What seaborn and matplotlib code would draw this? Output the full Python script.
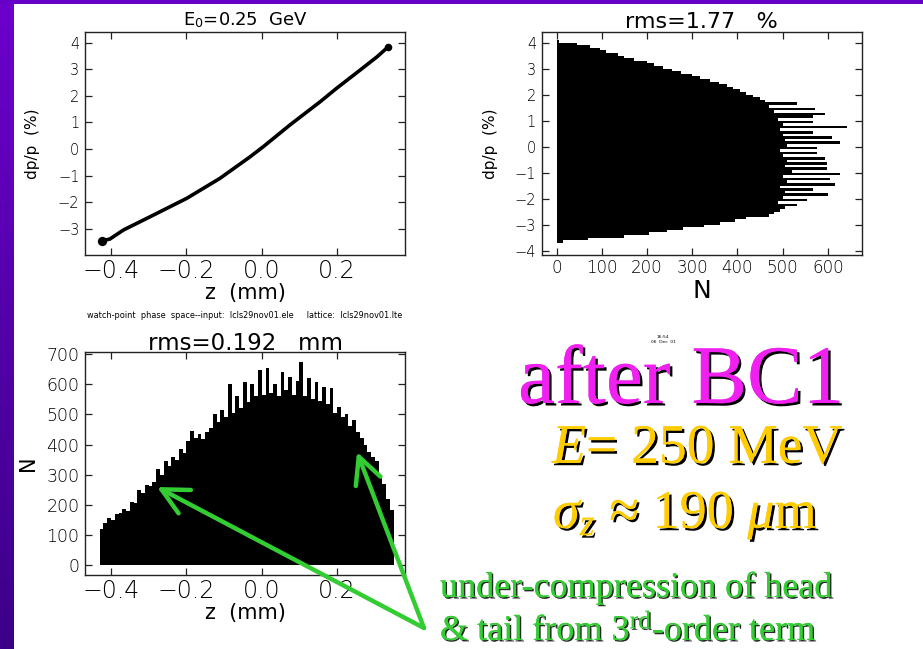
import numpy as np
import pandas as pd
import matplotlib
matplotlib.use("Agg")
import matplotlib.pyplot as plt
import matplotlib.patheffects as pe
from matplotlib.colors import LinearSegmentedColormap
from matplotlib.patches import Rectangle
import seaborn as sns

# ---------------- data ----------------
# longitudinal phase space (centre line of the particle band)
phase_z = [-0.425, -0.403, -0.367, -0.296, -0.199, -0.111, -0.031, 0.004,
           0.075, 0.155, 0.199, 0.261, 0.306, 0.336]
phase_dp = [-3.45, -3.38, -3.04, -2.54, -1.85, -1.10, -0.29, 0.09,
            0.91, 1.78, 2.29, 2.97, 3.47, 3.85]

# energy histogram: counts per 0.1 % bin, starting at dp/p = -3.7 %
dp_lo = -3.7
dp_width = 0.1
dp_counts = [15, 70, 150, 205, 245, 280, 325, 362, 395, 420, 470, 480, 494,
             505, 531, 490, 553, 500, 601, 505, 568, 495, 616, 510, 605, 500,
             627, 520, 598, 505, 598, 510, 594, 500, 575, 495, 575, 510, 626,
             505, 609, 500, 568, 495, 642, 500, 568, 490, 568, 594, 480, 571,
             470, 531, 460, 450, 435, 420, 405, 390, 376, 360, 340, 318, 299,
             275, 255, 236, 215, 200, 172, 150, 136, 110, 95, 74, 44, 5]

# bunch-length histogram: counts per 0.01 mm bin, starting at z = -0.43 mm
z_lo = -0.43
z_width = 0.01
z_counts = [118, 140, 155, 150, 168, 172, 185, 180, 210, 205, 250, 240, 265,
            262, 275, 320, 300, 345, 330, 360, 350, 385, 372, 412, 445, 420,
            435, 418, 440, 455, 500, 475, 515, 490, 600, 505, 560, 520, 608,
            540, 600, 560, 648, 565, 653, 570, 600, 560, 640, 580, 625, 565,
            610, 675, 560, 620, 550, 608, 545, 590, 536, 586, 505, 525, 490,
            500, 460, 481, 440, 420, 400, 375, 360, 345, 300, 270, 220, 182]

z_ticks = [-0.4, -0.2, 0.0, 0.2]
z_tick_labels = ["\u22120.4", "\u22120.2", "0.0", "0.2"]
dp_ticks_a = [-3, -2, -1, 0, 1, 2, 3, 4]
dp_ticks_b = [-4, -3, -2, -1, 0, 1, 2, 3, 4]
n_ticks_b = [0, 100, 200, 300, 400, 500, 600]
n_ticks_c = [0, 100, 200, 300, 400, 500, 600, 700]

# ---------------- figure ----------------
sns.set_style("ticks")
plt.rcParams["font.family"] = ["DejaVu Sans"]
plt.rcParams["font.weight"] = "light"
plt.rcParams["text.color"] = "black"
plt.rcParams["axes.labelcolor"] = "black"
plt.rcParams["xtick.color"] = "black"
plt.rcParams["ytick.color"] = "black"
plt.rcParams["mathtext.fontset"] = "custom"
plt.rcParams["mathtext.rm"] = "Liberation Serif"
plt.rcParams["mathtext.it"] = "Liberation Serif:italic"

W, H = 923, 649
fig = plt.figure(figsize=(W / 100, H / 100), dpi=100)
fig.patch.set_facecolor("white")


def ax_rect(x0, y0, x1, y1):
    return [x0 / W, 1 - y1 / H, (x1 - x0) / W, (y1 - y0) / H]


def style(ax, xfs, yfs):
    for s in ax.spines.values():
        s.set_visible(True)
        s.set_color("#222222")
        s.set_linewidth(1.0)
    ax.tick_params(which="major", direction="in", bottom=True, left=True,
                   top=True, right=True, length=5, width=0.9, color="#222222")
    ax.tick_params(which="minor", bottom=False, left=False, top=False, right=False)
    ax.tick_params(axis="x", labelsize=xfs, pad=3)
    ax.tick_params(axis="y", labelsize=yfs, pad=4)


# --- top-left: phase space ---
ax1 = fig.add_axes(ax_rect(85, 32, 405, 255))
sns.lineplot(x=phase_z, y=phase_dp, sort=False, estimator=None,
             color="black", linewidth=2.6, ax=ax1)
ax1.scatter(phase_z[:1], phase_dp[:1], s=45, color="black", lw=0)
ax1.scatter(phase_z[-1:], phase_dp[-1:], s=30, color="black", lw=0)
ax1.set_xlim(-0.469, 0.38)
ax1.set_ylim(-3.98, 4.4)
ax1.set_xticks(z_ticks)
ax1.set_xticklabels(z_tick_labels)
ax1.set_yticks(dp_ticks_a)
ax1.set_title("E$_\\mathregular{0}$=0.25  GeV", fontsize=13, pad=5)
ax1.set_xlabel("z  (mm)", fontsize=15, labelpad=0)
ax1.set_ylabel("dp/p  (%)", fontsize=11, labelpad=13)
style(ax1, 17, 10.5)

# --- top-right: energy histogram ---
ax2 = fig.add_axes(ax_rect(541.7, 32, 861.7, 255))
dp_centres = dp_lo + dp_width * (np.arange(len(dp_counts)) + 0.5)
df_dp = pd.DataFrame({"dp": dp_centres, "n": dp_counts})
sns.histplot(data=df_dp, y="dp", weights="n", bins=len(dp_counts),
             binrange=(dp_lo, dp_lo + dp_width * len(dp_counts)), color="black",
             alpha=1, linewidth=0, ax=ax2)
ax2.set_xlim(-33, 675)
ax2.set_ylim(-4.17, 4.41)
ax2.set_xticks(n_ticks_b)
ax2.set_yticks(dp_ticks_b)
ax2.set_yticklabels(["\u22124", "\u22123", "\u22122", "\u22121", "0", "1", "2", "3", "4"])
ax2.set_title("rms=1.77   %", fontsize=16, pad=3)
ax2.set_xlabel("N", fontsize=18, labelpad=1)
ax2.set_ylabel("dp/p  (%)", fontsize=11, labelpad=12)
style(ax2, 12, 10.5)

# --- bottom-left: bunch-length histogram ---
ax3 = fig.add_axes(ax_rect(85, 351.7, 405, 575))
z_centres = z_lo + z_width * (np.arange(len(z_counts)) + 0.5)
df_z = pd.DataFrame({"z": z_centres, "n": z_counts})
sns.histplot(data=df_z, x="z", weights="n", bins=len(z_counts),
             binrange=(z_lo, z_lo + z_width * len(z_counts)), color="black",
             alpha=1, linewidth=0, ax=ax3)
ax3.set_xlim(-0.469, 0.38)
ax3.set_ylim(-33, 708)
ax3.set_xticks(z_ticks)
ax3.set_xticklabels(z_tick_labels)
ax3.set_yticks(n_ticks_c)
ax3.set_title("rms=0.192   mm", fontsize=16.5, pad=1)
ax3.set_xlabel("z  (mm)", fontsize=15, labelpad=0)
ax3.set_ylabel("N", fontsize=15, labelpad=6)
style(ax3, 17, 12.5)

# ---------------- slide decoration overlay ----------------
ov = fig.add_axes([0, 0, 1, 1], zorder=10)
ov.axis("off")
ov.patch.set_alpha(0)

# purple frame
cmap = LinearSegmentedColormap.from_list("purp", ["#6c00cc", "#3c0088"])
grad = np.linspace(0, 1, 256).reshape(-1, 1)
ov.imshow(grad, cmap=cmap, extent=(0, 14, H, 0), aspect="auto", zorder=1)
ov.add_patch(Rectangle((0, 0), W, 4, color="#6400c8", lw=0, zorder=1))
ov.set_xlim(0, W)
ov.set_ylim(H, 0)

ov.text(245, 315, "watch-point  phase  space--input:  lcls29nov01.ele     lattice:  lcls29nov01.lte",
        fontsize=5.9, ha="center", va="center", color="black", fontweight="normal")
ov.text(663, 337, "16:54", fontsize=3.2, ha="center", va="center", fontweight="normal")
ov.text(663, 342, "06  Dec  01", fontsize=3.2, ha="center", va="center", fontweight="normal")

shadow_big = [pe.withSimplePatchShadow(offset=(1.8, -1.8), shadow_rgbFace="black", alpha=1.0),
              pe.Normal()]
shadow_small = [pe.withSimplePatchShadow(offset=(1.1, -1.1), shadow_rgbFace="#111111", alpha=0.9),
                pe.Normal()]

serif = dict(family="Liberation Serif", fontweight="normal", ha="left", va="baseline")
ov.text(518, 403, "after BC1", fontsize=60, color="#f020f0",
        path_effects=shadow_big, **serif)
ov.text(552, 463, "$E$= 250 MeV", fontsize=40, color="#ffcc00",
        path_effects=shadow_big, **serif)
ov.text(553, 528, "$\\sigma_z$ \u2248 190 $\\mu$m", fontsize=39, color="#ffcc00",
        path_effects=shadow_big, **serif)
ov.text(440, 597, "under-compression of head", fontsize=26, color="#33cc33",
        path_effects=shadow_small, **serif)
ov.text(440, 640, "& tail from 3$^{\\mathrm{rd}}$-order term", fontsize=26,
        color="#33cc33", path_effects=shadow_small, **serif)

arrow_kw = dict(arrowstyle="->,head_length=1.9,head_width=0.95", color="#33cc33",
                lw=3.2, shrinkA=0, shrinkB=0)
ov.annotate("", xy=(157, 487), xytext=(424, 628), arrowprops=arrow_kw)
ov.annotate("", xy=(357, 452), xytext=(424, 628), arrowprops=arrow_kw)

fig.savefig("out.png", dpi=100, facecolor="white")
